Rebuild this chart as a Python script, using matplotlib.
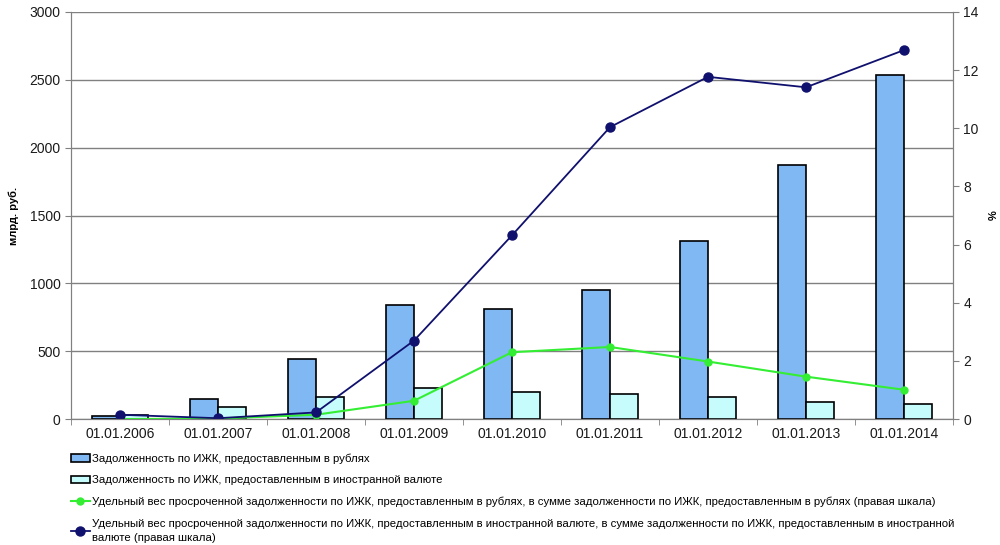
import numpy as np
import matplotlib.pyplot as plt

# ------------------------------------------------------
dates = ['01.01.2006', '01.01.2007', '01.01.2008', '01.01.2009', '01.01.2010',
         '01.01.2011', '01.01.2012', '01.01.2013', '01.01.2014']

debt_rub = [24, 147, 446, 841, 811, 948, 1316, 1874, 2532]
debt_fx = [29, 88, 166, 232, 201, 182, 166, 125, 113]

overdue_rub = [0.0, 0.02, 0.15, 0.63, 2.30, 2.48, 1.98, 1.46, 1.01]
overdue_fx = [0.15, 0.03, 0.23, 2.70, 6.32, 10.04, 11.77, 11.41, 12.69]

labels = ['Задолженность по ИЖК, предоставленным в рублях',
          'Задолженность по ИЖК, предоставленным в иностранной валюте',
          'Удельный вес просроченной задолженности по ИЖК, предоставленным в рублях, '
          'в сумме задолженности по ИЖК, предоставленным в рублях (правая шкала)',
          'Удельный вес просроченной задолженности по ИЖК, предоставленным в иностранной '
          'валюте, в сумме задолженности по ИЖК, предоставленным в иностранной\nвалюте (правая шкала)']
# ------------------------------------------------------

plt.rcParams['font.family'] = ['Liberation Sans', 'DejaVu Sans']

fig = plt.figure(figsize=(10, 5.45), dpi=100)
ax = fig.add_axes([0.071, 0.231, 0.882, 0.747])
ax2 = ax.twinx()

x = np.arange(len(dates))
w = 0.29
b1 = ax.bar(x - w / 2, debt_rub, w, color='#80B8F4', edgecolor='black', linewidth=1.2, zorder=3)
b2 = ax.bar(x + w / 2, debt_fx, w, color='#C6FCFC', edgecolor='black', linewidth=1.2, zorder=3)

l1, = ax2.plot(x, overdue_rub, color='#33EE33', marker='o', markersize=5, linewidth=1.5)
l2, = ax2.plot(x, overdue_fx, color='#10106E', marker='o', markersize=6.5, linewidth=1.3)

ax.set_xlim(-0.5, len(dates) - 0.5)
ax.set_ylim(0, 3000)
ax2.set_ylim(0, 14)
ax.set_yticks(range(0, 3001, 500))
ax2.set_yticks(range(0, 15, 2))

ax.set_xticks(x)
ax.set_xticklabels(dates)
ax.set_xticks(np.arange(-0.5, len(dates), 1), minor=True)
ax.tick_params(axis='x', which='major', length=0, pad=6)
ax.tick_params(axis='x', which='minor', length=4, direction='out', color='#808080')
ax.tick_params(axis='y', length=4, direction='out', color='#808080')
ax2.tick_params(axis='y', length=4, direction='out', color='#808080')
for a in (ax, ax2):
    for lab in a.get_xticklabels() + a.get_yticklabels():
        lab.set_fontsize(10)
        lab.set_color('#1a1a1a')

ax.grid(axis='y', color='#808080', linewidth=1, zorder=0)
ax.set_axisbelow(True)
for a in (ax, ax2):
    a.spines['top'].set_visible(False)
    for s in ('left', 'right', 'bottom'):
        a.spines[s].set_color('#808080')

ax.set_ylabel('млрд. руб.', fontsize=8, fontweight='bold')
ax.yaxis.set_label_coords(-0.059, 0.5)
ax2.set_ylabel('%', fontsize=8, fontweight='bold')
ax2.yaxis.set_label_coords(1.04, 0.5)

leg = fig.legend([b1, b2, l1, l2], labels, loc='upper left', bbox_to_anchor=(0.066, 0.176),
                 frameon=False, fontsize=8.2, labelspacing=1.0, handlelength=1.7,
                 handletextpad=0.2, borderaxespad=0)
for t in leg.get_texts():
    t.set_linespacing(1.5)

fig.savefig('out.png', dpi=100)
